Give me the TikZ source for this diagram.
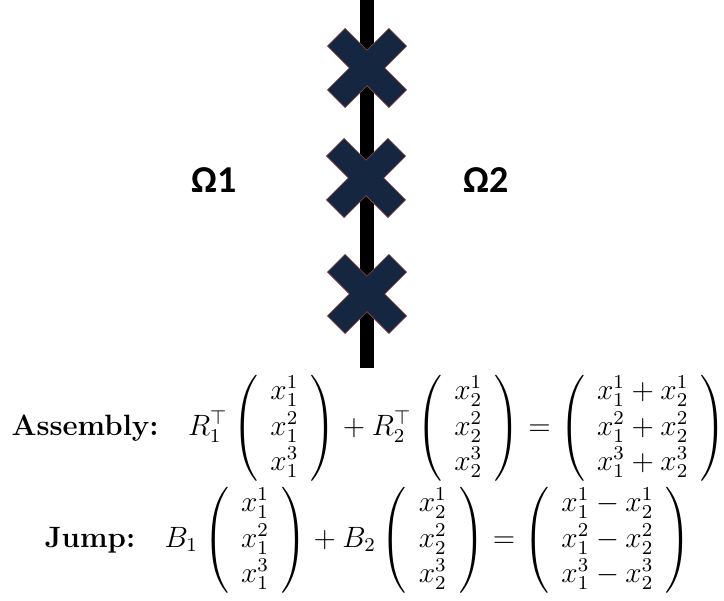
\documentclass[tikz,border=0pt]{standalone}
\usepackage{amsmath}
\usepackage{fontspec}
\newfontfamily\labelfont{Carlito}
\usetikzlibrary{positioning}

\definecolor{navy}{RGB}{20,38,64}
\definecolor{rimred}{RGB}{150,70,70}

\begin{document}
\begin{tikzpicture}[x=1pt, y=1pt,
    crossmark/.style={fill=navy, draw=rimred, line width=0.6pt},
    sublabel/.style={font=\labelfont\bfseries\fontsize{38}{40}\selectfont, inner sep=0pt},
    eqn/.style={font=\fontsize{12}{14.5}\selectfont, scale=2.45, transform shape, inner sep=0pt}
]
    \useasboundingbox (0,0) rectangle (724,-601);

    % Interface
    \fill[black] (360,0) rectangle (374,-368);

    % Crosses on the interface
    \foreach \cx/\cy [count=\i] in {367/68, 366/178, 367/294} {
        \coordinate (c\i) at (\cx,-\cy);
        \draw[crossmark, shift={(c\i)}, rotate=45]
            (12.5,43.5) -- (12.5,12.5) -- (43.5,12.5) -- (43.5,-12.5)
            -- (12.5,-12.5) -- (12.5,-43.5) -- (-12.5,-43.5) -- (-12.5,-12.5)
            -- (-43.5,-12.5) -- (-43.5,12.5) -- (-12.5,12.5) -- (-12.5,43.5) -- cycle;
    }

    % Subdomains
    \node[sublabel] (om1) at (214,-180) {Ω1};
    \node[sublabel] (om2) at (486,-180) {Ω2};

    % Equations
    \node[eqn] (asm) at (369,-428) {$\textbf{Assembly:}\quad R_1^\top
        \left(\begin{array}{c} x_1^1\\ x_1^2\\ x_1^3 \end{array}\right)
        + R_2^\top \left(\begin{array}{c} x_2^1\\ x_2^2\\ x_2^3 \end{array}\right)
        = \left(\begin{array}{c} x_1^1+x_2^1\\ x_1^2+x_2^2\\ x_1^3+x_2^3 \end{array}\right)$};
    \node[eqn] (jmp) at (368,-540) {$\textbf{Jump:}\quad B_1
        \left(\begin{array}{c} x_1^1\\ x_1^2\\ x_1^3 \end{array}\right)
        + B_2 \left(\begin{array}{c} x_2^1\\ x_2^2\\ x_2^3 \end{array}\right)
        = \left(\begin{array}{c} x_1^1-x_2^1\\ x_1^2-x_2^2\\ x_1^3-x_2^3 \end{array}\right)$};
\end{tikzpicture}
\end{document}
